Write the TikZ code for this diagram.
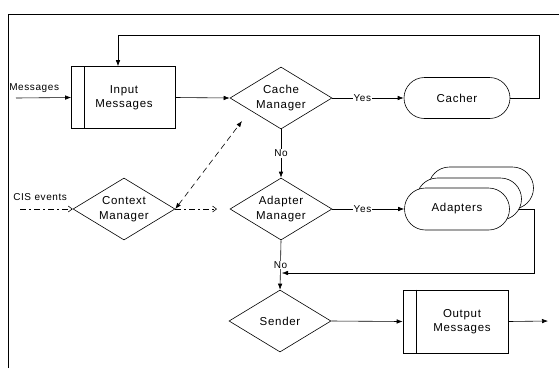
\documentclass[tikz,border=0pt]{standalone}
\usepackage{fontspec}
\setmainfont{Liberation Sans}[LetterSpace=6]
\usetikzlibrary{arrows.meta,shapes.geometric,shapes.misc,backgrounds}
\begin{document}
\begin{tikzpicture}[x=1pt,y=-1pt,line width=0.6pt,
  nodefont/.style={font=\fontsize{11.5}{14.5}\selectfont},
  lblfont/.style={font=\fontsize{10}{12}\selectfont},
  diam/.style={diamond,draw,minimum width=102pt,minimum height=62pt,inner sep=0pt,aspect=1.65,align=center,nodefont},
  pill/.style={rounded rectangle,draw,fill=white,minimum width=106pt,minimum height=41pt,inner sep=0pt,nodefont},
  procbox/.style={rectangle,draw,minimum width=104pt,minimum height=62pt,inner sep=0pt,align=center,nodefont},
  arr/.style={-{Latex[length=6pt,width=4.5pt]}},
  openarr/.style={-{Straight Barb[length=4pt,width=6pt]}},
  dashdot/.style={dash pattern=on 6pt off 3pt on 2pt off 3pt},
  lbl/.style={fill=white,inner sep=1pt,lblfont}]
\useasboundingbox (0,0) rectangle (559,368);
% frame
\draw[line width=0.8pt] (8,368) -- (8,14) -- (559,14);

% nodes
\node[procbox,text width=80pt,xshift=6pt] (inp) at (117.5,97.5) {};
\node[nodefont,align=center] (inptxt) at (124,97.5) {Input\\Messages};
\draw ([xshift=13pt]inp.north west) -- ([xshift=13pt]inp.south west);

\node[diam] (cache) at (281,98) {Cache\\Manager};
\node[pill] (cacher) at (457,98) {Cacher};
\node[diam] (adapt) at (281,209) {Adapter\\Manager};
\node[pill,minimum width=105pt,minimum height=42pt] (ad3) at (481,188) {};
\node[pill,minimum width=105pt,minimum height=42pt] (ad2) at (469,199) {};
\node[pill,minimum width=105pt,minimum height=42pt] (adapters) at (457,209) {Adapters};
\node[diam] (context) at (124,209) {Context\\Manager};
\node[diam] (sender) at (280,321) {Sender};
\node[procbox,minimum width=105pt,minimum height=63pt] (out) at (455.5,321.5) {};
\node[nodefont,align=center] (outtxt) at (462,321.5) {Output\\Messages};
\draw ([xshift=14pt]out.north west) -- ([xshift=14pt]out.south west);

% free ends
\coordinate (msgin) at (16,98);
\coordinate (cisin) at (20,209);
\coordinate (outend) at (548,321);
\coordinate (fb1) at (539,98);
\coordinate (fb2) at (539,35);
\coordinate (fb3) at (118,35);
\coordinate (rt1) at (534,209);
\coordinate (rt2) at (534,273);
\coordinate (rt3) at (282,273);
\coordinate (ctxup) at (242,121);
\coordinate (ctxright) at (217,209);

% labels
\node[lblfont,anchor=west,inner sep=0pt] (msglbl) at (9,88) {Messages};
\node[lblfont,anchor=west,inner sep=0pt] (cislbl) at (13,197) {CIS events};

% connectors
\draw[arr] (msgin) -- (inp.west);
\draw[arr] (inp.east) -- (cache.west);
\draw[arr] (cache.east) -- node[lbl,pos=0.42] {Yes} (cacher.west);
\draw[arr] (cache.south) -- node[lbl] {No} (adapt.north);
\draw[arr] (cacher.east) -- (fb1) -- (fb2) -- (fb3) -- (inp.north -| fb3);
\draw[arr] (adapt.east) -- node[lbl,pos=0.42] {Yes} (adapters.west);
\draw[arr] (adapt.south) -- node[lbl] {No} (sender.north);
\begin{scope}[on background layer]
\draw[arr] (adapters.east) -- (rt1) -- (rt2) -- (rt3);
\end{scope}
\draw[arr] (sender.east) -- (out.west);
\draw[arr] (out.east) -- (outend);
\draw[openarr,dashdot] (cisin) -- (context.west);
\draw[openarr,dashdot] (context.east) -- (ctxright);
\draw[{Latex[length=6pt,width=4.5pt]}-{Latex[length=6pt,width=4.5pt]},dash pattern=on 6pt off 4pt] (context.east) -- (ctxup);
\end{tikzpicture}
\end{document}
